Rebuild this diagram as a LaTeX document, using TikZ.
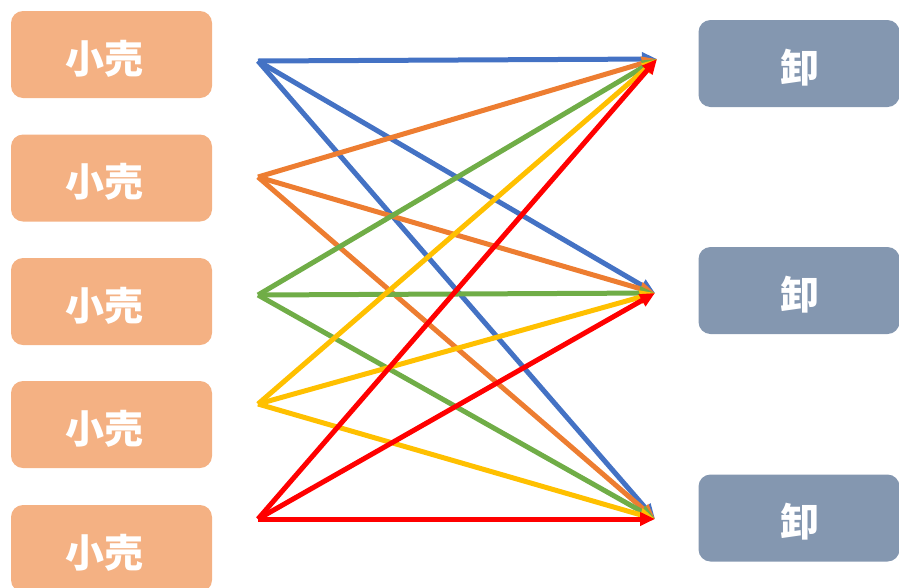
\documentclass[tikz,border=0pt]{standalone}
\usepackage{fontspec}
\newfontfamily\cjk{Noto Sans CJK JP}
\usetikzlibrary{arrows.meta}
\definecolor{retail}{HTML}{F4B183}
\definecolor{whole}{HTML}{8497B0}
\definecolor{cblue}{HTML}{4472C4}
\definecolor{corange}{HTML}{ED7D31}
\definecolor{cgreen}{HTML}{70AD47}
\definecolor{cyellow}{HTML}{FFC000}
\definecolor{cred}{HTML}{FF0000}
\tikzset{
  shopbox/.style={rounded corners=12pt,minimum width=201pt,minimum height=87pt,
    inner sep=0pt},
  retailbox/.style={shopbox,fill=retail},
  wholebox/.style={shopbox,fill=whole},
  shoplbl/.style={text=white,inner sep=0pt,font=\cjk\bfseries\fontsize{39}{42}\selectfont},
  link/.style={-{Triangle[length=15pt,width=13pt]},line width=5pt},
}
\begin{document}
\begin{tikzpicture}[x=1pt,y=-1pt]
  \useasboundingbox (0,0) rectangle (899,587);
  % retailers
  \foreach \i/\y in {1/54.5,2/178,3/301.5,4/424.5,5/548.5}{
    \node[retailbox] (r\i) at (111.5,\y) {};
    \node[shoplbl] (rl\i) at ([xshift=-7pt,yshift=-4pt]r\i.center) {小売};
  }
  % wholesalers
  \foreach \i/\y in {1/63.5,2/290.5,3/518}{
    \node[wholebox] (w\i) at (799,\y) {};
    \node[shoplbl] (wl\i) at ([xshift=1pt,yshift=-4pt]w\i.center) {卸};
  }
  % arrow ends
  \coordinate (s1) at (258,61);
  \coordinate (s2) at (258,177);
  \coordinate (s3) at (258,295);
  \coordinate (s4) at (258,404);
  \coordinate (s5) at (258,519);
  \coordinate (t1) at (657,59);
  \coordinate (t2) at (655,293);
  \coordinate (t3) at (655,519);
  \foreach \s/\c in {s1/cblue,s2/corange,s3/cgreen,s4/cyellow,s5/cred}
    \foreach \t in {t1,t2,t3}
      \draw[link,\c] (\s) -- (\t);
\end{tikzpicture}
\end{document}
